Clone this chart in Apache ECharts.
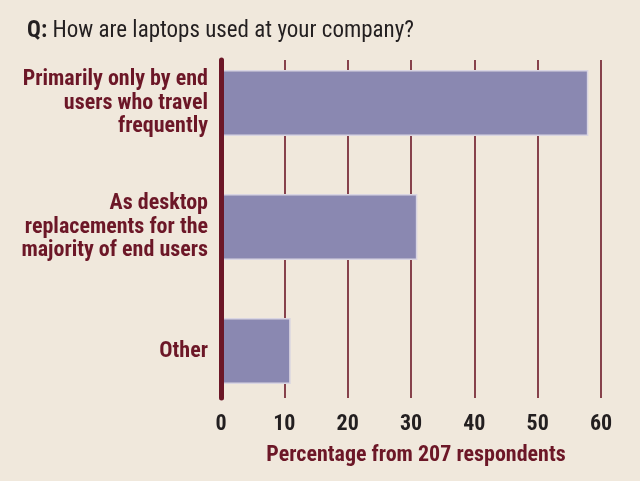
<!DOCTYPE html>
<html>
<head>
<meta charset="utf-8">
<script src="https://cdn.jsdelivr.net/npm/echarts@6/dist/echarts.min.js"></script>
<style>
  html, body { margin: 0; padding: 0; background: #f0e8dc; }
  #container { width: 640px; height: 481px; }
</style>
</head>
<body>
<div id="container"></div>
<script>
// survey answers, top to bottom
const categories = [
    'Primarily only by end\nusers who travel\nfrequently',
    'As desktop\nreplacements for the\nmajority of end users',
    'Other'
];
const percentages = [58, 31, 11];
const axisMin = 0;
const axisMax = 60;
const axisStep = 10;

const darkRed = '#6c1727';
const font = '"Roboto Condensed", "DejaVu Sans Condensed", "Liberation Sans Narrow", sans-serif';

const chart = echarts.init(document.getElementById('container'));

const option = {
    backgroundColor: '#f0e8dc',
    title: {
        left: 22,
        top: 15,
        text: '{q|Q:} How are laptops used at your company?',
        textStyle: {
            fontFamily: font,
            fontSize: 23,
            fontWeight: 'normal',
            color: '#231f20',
            rich: {
                q: { fontFamily: font, fontSize: 23, fontWeight: 'bold', color: '#231f20' }
            }
        }
    },
    grid: [
        // bars live here: one band per answer
        { left: 221, right: 39, top: 41, bottom: 68, outerBoundsMode: 'none' },
        // gridlines + ticks, shorter than the bands
        { left: 221, right: 39, top: 60, bottom: 83, outerBoundsMode: 'none' }
    ],
    xAxis: [{
        gridIndex: 0,
        type: 'value',
        min: axisMin,
        max: axisMax,
        show: false
    }, {
        gridIndex: 1,
        type: 'value',
        min: axisMin,
        max: axisMax,
        interval: axisStep,
        axisLine: { show: false },
        axisTick: { show: false },
        splitLine: { show: true, lineStyle: { color: darkRed, width: 1.6 } },
        axisLabel: {
            margin: 15,
            fontFamily: font,
            fontSize: 22,
            fontWeight: 'bold',
            color: '#231f20'
        },
        name: 'Percentage from 207 respondents',
        nameLocation: 'middle',
        nameGap: 46,
        nameTextStyle: {
            fontFamily: font,
            fontSize: 22,
            fontWeight: 'bold',
            color: darkRed,
            padding: [0, 0, 0, 10]
        }
    }],
    yAxis: [{
        gridIndex: 0,
        type: 'category',
        inverse: true,
        data: categories,
        axisLine: { show: false },
        axisTick: { show: false },
        axisLabel: {
            margin: 13,
            fontFamily: font,
            fontSize: 22,
            fontWeight: 'bold',
            lineHeight: 23.5,
            align: 'right',
            color: darkRed
        }
    }, {
        gridIndex: 1,
        type: 'value',
        z: 5,
        axisLine: { show: true, lineStyle: { color: darkRed, width: 5 } },
        axisTick: { show: false },
        axisLabel: { show: false },
        splitLine: { show: false }
    }],
    series: [{
        type: 'bar',
        xAxisIndex: 0,
        yAxisIndex: 0,
        barWidth: 66,
        data: percentages,
        itemStyle: {
            color: '#8a88b1',
            borderColor: '#d9d5e2',
            borderWidth: 1.5
        },
        silent: true
    }]
};

chart.setOption(option);
</script>
</body>
</html>
